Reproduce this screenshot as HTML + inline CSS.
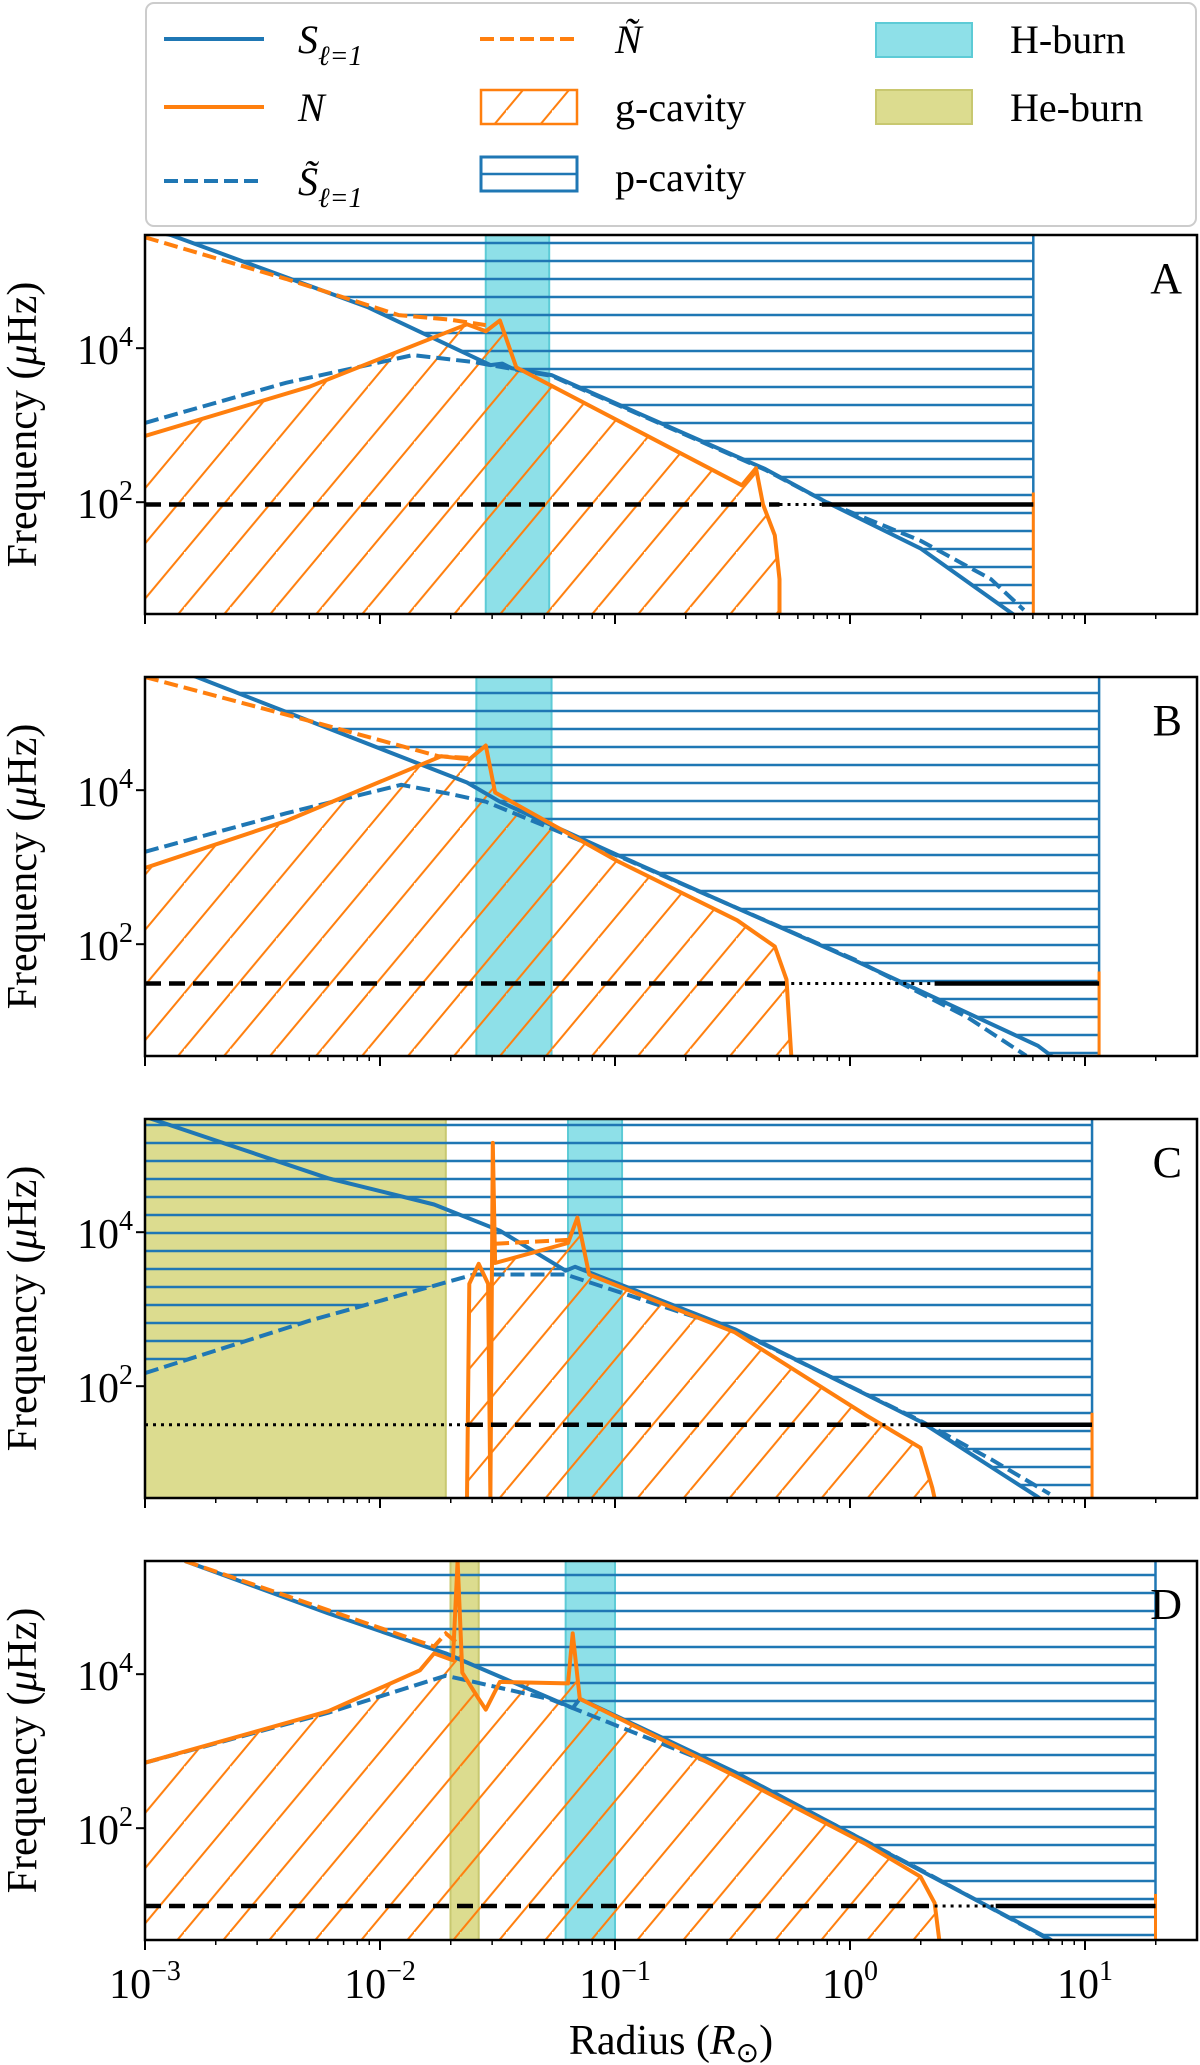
<!DOCTYPE html>
<html><head><meta charset="utf-8"><style>
html,body{margin:0;padding:0;background:#fff;}
svg{display:block;font-family:"Liberation Serif",serif;}
</style></head><body>
<svg id="fig" width="1200" height="2065" viewBox="0 0 1200 2065" xmlns="http://www.w3.org/2000/svg">
<defs>
<pattern id="hp" patternUnits="userSpaceOnUse" width="40" height="18"><line x1="0" y1="9" x2="40" y2="9" stroke="#1f77b4" stroke-width="2.6"/></pattern>
<pattern id="gp" patternUnits="userSpaceOnUse" width="46" height="55.2"><line x1="-46" y1="110.4" x2="46" y2="0" stroke="#ff7f0e" stroke-width="2"/><line x1="0" y1="110.4" x2="92" y2="0" stroke="#ff7f0e" stroke-width="2"/></pattern>
</defs>
<g id="legend">
<rect x="146" y="3" width="1050" height="223" rx="8" fill="#fff" stroke="#ccc" stroke-width="2"/>
<g><line x1="164" y1="39" x2="264" y2="39" stroke="#1f77b4" stroke-width="4"/><text x="298" y="53" font-size="40" font-style="italic">S<tspan font-size="28" dy="12">ℓ=1</tspan></text></g>
<g><line x1="164" y1="107" x2="264" y2="107" stroke="#ff7f0e" stroke-width="4"/><text x="298" y="121" font-size="40" font-style="italic">N</text></g>
<g><line x1="164" y1="181" x2="264" y2="181" stroke="#1f77b4" stroke-width="4" stroke-dasharray="14,6"/><text x="298" y="195" font-size="40" font-style="italic">S̃<tspan font-size="28" dy="12">ℓ=1</tspan></text></g>
<g><line x1="480" y1="39" x2="577" y2="39" stroke="#ff7f0e" stroke-width="4" stroke-dasharray="14,6"/><text x="615" y="53" font-size="40" font-style="italic">Ñ</text></g>
<g><rect x="481" y="90" width="96" height="34" fill="url(#gp)" stroke="#ff7f0e" stroke-width="2.5"/><text x="615" y="121" font-size="40">g-cavity</text></g>
<g><rect x="481" y="157" width="96" height="34" fill="#fff" stroke="#1f77b4" stroke-width="3"/><line x1="481" y1="174" x2="577" y2="174" stroke="#1f77b4" stroke-width="2.5"/><text x="615" y="191" font-size="40">p-cavity</text></g>
<g><rect x="876" y="23" width="96" height="34" fill="#8ee0e8" stroke="#5dcbd6" stroke-width="2"/><text x="1010" y="53" font-size="40">H-burn</text></g>
<g><rect x="876" y="90" width="96" height="34" fill="#dcdc8f" stroke="#c8c870" stroke-width="2"/><text x="1010" y="121" font-size="40">He-burn</text></g>
</g>
<g id="panels"></g>
<text x="671" y="2054" font-size="42" text-anchor="middle">Radius (<tspan font-style="italic">R</tspan><tspan font-size="28" dy="8">⊙</tspan><tspan dy="-8">)</tspan></text>
</svg>
<script>
// ---- data (log10 radius [R_sun], log10 frequency [μHz]) ----
const panelLabels = ["A","B","C","D"];
const xTickLabels = ["-3","-2","-1","0","1"];
const yTickLabels = ["2","4"];
const sA = [[-3.1,5.6],[-2.89,5.47],[-2.05,4.53],[-1.53,3.78],[-1.48,3.8],[-1.44,3.74],[-1.27,3.65],[-0.36,2.43],[-0.1,2.0],[0.3,1.4],[0.715,0.5]];
const stA = [[-3,3.03],[-2.4,3.55],[-1.86,3.91],[-1.6,3.82],[-1.53,3.78],[-1.27,3.64],[-0.36,2.42],[-0.1,2.0],[0.3,1.5],[0.6,1.0],[0.74,0.6]];
const nA = [[-3,2.86],[-2.3,3.5],[-1.63,4.31],[-1.55,4.22],[-1.49,4.36],[-1.42,3.75],[-0.46,2.22],[-0.40,2.44],[-0.37,1.97],[-0.32,1.57],[-0.30,1.0],[-0.30,0.545]];
const ntA = [[-3,5.44],[-2.4,4.9],[-1.92,4.43],[-1.7,4.37],[-1.55,4.3]];
const sB = [[-3.1,5.8],[-2.78,5.47],[-1.63,4.10],[-1.49,3.85],[-0.99,3.16],[0.02,1.79],[0.8,0.68],[0.9,0.45]];
const stB = [[-3,3.20],[-2.4,3.7],[-1.91,4.07],[-1.7,3.95],[-1.55,3.85],[-0.99,3.15],[0.02,1.80],[0.5,1.05],[0.75,0.55]];
const nB = [[-3,2.99],[-2.4,3.6],[-1.74,4.44],[-1.62,4.40],[-1.55,4.58],[-1.51,3.97],[-0.99,3.08],[-0.48,2.31],[-0.32,1.97],[-0.27,1.54],[-0.25,0.545]];
const ntB = [[-3,5.47],[-2.3,4.9],[-1.75,4.44],[-1.62,4.42]];
const sC = [[-3,5.5],[-2.22,4.70],[-1.77,4.36],[-1.49,4.02],[-1.21,3.50],[-1.17,3.55],[-0.49,2.74],[0.3,1.54],[0.8,0.56],[0.85,0.45]];
const stC = [[-3,2.17],[-2.3,2.85],[-1.6,3.45],[-1.21,3.45],[-0.49,2.73],[0.3,1.55],[0.6,1.05],[0.85,0.6]];
const nC = [[-1.63,0.545],[-1.62,3.33],[-1.58,3.59],[-1.54,3.33],[-1.53,0.545],[-1.52,5.16],[-1.51,3.60],[-1.2,3.86],[-1.16,4.19],[-1.11,3.45],[-0.49,2.70],[0.07,1.62],[0.30,1.20],[0.35,0.68],[0.36,0.545]];
const ntC = [[-1.51,3.85],[-1.2,3.9]];
const sD = [[-2.83,5.47],[-2.22,4.79],[-1.72,4.27],[-1.27,3.68],[-1.18,3.56],[-1.15,3.68],[-0.49,2.73],[0.3,1.45],[0.85,0.56],[0.9,0.45]];
const stD = [[-3,2.85],[-2.22,3.50],[-1.72,3.98],[-1.6,3.9],[-1.27,3.67],[-0.49,2.72],[0.3,1.46],[0.88,0.5]];
const nD = [[-3,2.85],[-2.22,3.52],[-1.83,4.05],[-1.77,4.27],[-1.69,4.18],[-1.67,5.47],[-1.65,4.02],[-1.58,3.68],[-1.55,3.54],[-1.49,3.90],[-1.2,3.88],[-1.18,4.53],[-1.15,3.68],[-0.49,2.68],[0.07,1.79],[0.30,1.37],[0.36,1.03],[0.38,0.545]];
const ntD = [[-2.83,5.47],[-1.77,4.36],[-1.72,4.53],[-1.67,4.4]];
const hBurn = [[-1.55,-1.28],[-1.59,-1.27],[-1.20,-0.97],[-1.21,-1.0]];
const heBurn = [null,null,[-3,-1.72],[-1.70,-1.58]];
const pEdge = [0.78,1.06,1.03,1.30];
const modeFreq = [1.97,1.49,1.50,0.99];
const dashStart = [-3,-3,-1.63,-3];
const dashEnd = [-0.30,-0.25,0.07,0.36];
const dotEnd = [-0.12,0.36,0.30,0.62];
const S = [sA,sB,sC,sD], ST=[stA,stB,stC,stD], NN=[nA,nB,nC,nD], NT=[ntA,ntB,ntC,ntD];

const NS="http://www.w3.org/2000/svg";
const L=145,R=1197,H=379,tops=[235,677,1119,1561];
const FMAX=5.47,FMIN=0.545;
function mk(t,a,p){const e=document.createElementNS(NS,t);for(const k in a)e.setAttribute(k,a[k]);(p||g).appendChild(e);return e;}
let g=document.getElementById('panels');
function X(l){return L+(l+3)*235;}
function pts(arr,Y){return arr.map(p=>X(p[0]).toFixed(1)+","+Y(p[1]).toFixed(1)).join(" ");}
for(let i=0;i<4;i++){
  const T=tops[i],B=T+H;
  const Y=f=>T+(FMAX-f)*77;
  const pg=mk('g',{});
  
  
  const cp=mk('clipPath',{id:'c'+i},pg);mk('rect',{x:L,y:T,width:R-L,height:H},cp);
  const inner=mk('g',{'clip-path':'url(#c'+i+')'},pg);
  if(heBurn[i]){const r=mk('rect',{x:X(heBurn[i][0]),y:T,width:X(heBurn[i][1])-X(heBurn[i][0]),height:H,fill:'#dcdc8f',stroke:'#c8c870','stroke-width':2},inner);
    }
  const hb=mk('rect',{x:X(hBurn[i][0]),y:T,width:X(hBurn[i][1])-X(hBurn[i][0]),height:H,fill:'#8ee0e8',stroke:'#5dcbd6','stroke-width':2},inner);
  
  let pp;
  if(i==2){ const j=ST[i].findIndex(p=>p[0]>=-1.21); pp=[[-3.2,6],[-3.2,ST[i][0][1]]].concat(ST[i].slice(0,j+1)).concat(S[i].filter(p=>p[0]>-1.21)).concat([[pEdge[i],0],[pEdge[i],6]]); }
  else pp=[[S[i][0][0],6]].concat(S[i]).concat([[pEdge[i],0],[pEdge[i],6]]);
  const pc=mk('polygon',{points:pts(pp,Y),fill:'url(#hp)'},inner);
  
  mk('line',{x1:X(pEdge[i]),y1:T,x2:X(pEdge[i]),y2:B,stroke:'#1f77b4','stroke-width':2.5},inner);
  const n=NN[i];
  const gpArr=[[n[0][0],0]].concat(n).concat([[n[n.length-1][0],0]]);
  const gc=mk('polygon',{points:pts(gpArr,Y),fill:'url(#gp)'},inner);
  
  const c1=mk('polyline',{points:pts(S[i],Y),fill:'none',stroke:'#1f77b4','stroke-width':4,'stroke-linejoin':'round'},inner);
  
  const c2=mk('polyline',{points:pts(ST[i],Y),fill:'none',stroke:'#1f77b4','stroke-width':4,'stroke-dasharray':'14,6'},inner);
  
  const c3=mk('polyline',{points:pts(n,Y),fill:'none',stroke:'#ff7f0e','stroke-width':4,'stroke-linejoin':'round'},inner);
  
  const c4=mk('polyline',{points:pts(NT[i],Y),fill:'none',stroke:'#ff7f0e','stroke-width':4,'stroke-dasharray':'14,6'},inner);
  
  mk('line',{x1:X(pEdge[i]),y1:Y(modeFreq[i])-12,x2:X(pEdge[i]),y2:B,stroke:'#ff7f0e','stroke-width':3},inner);
  const fy=Y(modeFreq[i]);
  if(dashStart[i]>-3){const d0=mk('line',{x1:L,y1:fy,x2:X(dashStart[i]),y2:fy,stroke:'#000','stroke-width':3,'stroke-dasharray':'3,5'},inner);
    }
  const d1=mk('line',{x1:X(dashStart[i]),y1:fy,x2:X(dashEnd[i]),y2:fy,stroke:'#000','stroke-width':4.5,'stroke-dasharray':'16,8'},inner);
  
  const d2=mk('line',{x1:X(dashEnd[i]),y1:fy,x2:X(dotEnd[i]),y2:fy,stroke:'#000','stroke-width':3,'stroke-dasharray':'3,5'},inner);
  
  const d3=mk('line',{x1:X(dotEnd[i]),y1:fy,x2:X(pEdge[i]),y2:fy,stroke:'#000','stroke-width':4.5},inner);
  
  mk('rect',{x:L,y:T,width:R-L,height:H,fill:'none',stroke:'#000','stroke-width':2.5},pg);
  const lt=mk('text',{x:1182,y:T+58,'font-size':44,'text-anchor':'end'},pg);lt.textContent=panelLabels[i];
  
  yTickLabels.forEach(s=>{const yy=Y(+s);mk('line',{x1:L-9,y1:yy,x2:L,y2:yy,stroke:'#000','stroke-width':2},pg);
    const t=mk('text',{x:L-12,y:yy+16,'font-size':42,'text-anchor':'end'},pg);
    
    t.innerHTML='10<tspan font-size="28" dy="-18">'+s+'</tspan>';});
  const yl=mk('text',{x:0,y:0,'font-size':42,'text-anchor':'middle',transform:'translate(36,'+(T+H/2)+') rotate(-90)'},pg);
  
  yl.innerHTML='Frequency (<tspan font-style="italic">μ</tspan>Hz)';
  for(let d=-3;d<=1;d++){for(let m=1;m<10;m++){const xx=L+(d+3+Math.log10(m))*235;if(xx>R)break;
    mk('line',{x1:xx,y1:B,x2:xx,y2:B+(m==1?10:5),stroke:'#000','stroke-width':m==1?2:1.5},pg);}}
  if(i==3){xTickLabels.forEach(s=>{const t=mk('text',{x:X(+s),y:1998,'font-size':42,'text-anchor':'middle'},pg);
    
    t.innerHTML='10<tspan font-size="28" dy="-18">'+s.replace('-','−')+'</tspan>';});}
}
</script>
</body></html>
